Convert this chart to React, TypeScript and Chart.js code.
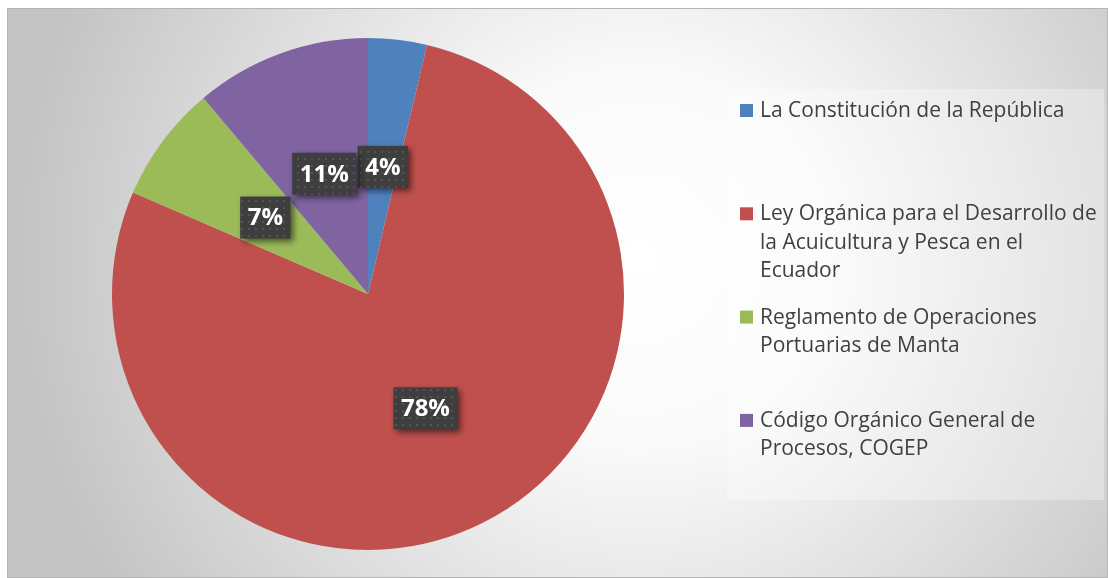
import React, { useEffect, useRef } from "react";
import { Chart, registerables } from "chart.js";

Chart.register(...registerables);

// Categories (legend lines as shown in the reference)
const categories: string[][] = [
  ["La Constitución de la República"],
  ["Ley Orgánica para el Desarrollo de", "la Acuicultura y Pesca en el", "Ecuador"],
  ["Reglamento de Operaciones", "Portuarias de Manta"],
  ["Código Orgánico General de", "Procesos, COGEP"],
];
// Counts per category (shown as percentages)
const values: number[] = [1, 21, 2, 3];
const colors: string[] = ["#4F81BD", "#C0504D", "#9BBB59", "#8064A2"];

const W = 1101;
const H = 570;
const FONT = "'Open Sans', Lato, sans-serif";

const bgPlugin = {
  id: "bgPlugin",
  beforeDraw(chart: any) {
    const { ctx } = chart;
    ctx.save();
    const g = ctx.createRadialGradient(633, 250, 0, 633, 250, 620);
    g.addColorStop(0, "#ffffff");
    g.addColorStop(0.3, "#fafafa");
    g.addColorStop(1, "#c4c4c4");
    ctx.fillStyle = g;
    ctx.fillRect(0, 0, W, H);
    // legend panel
    ctx.fillStyle = "rgba(255,255,255,0.3)";
    ctx.fillRect(720, 81, 377, 411);
    // border
    ctx.strokeStyle = "#b5b5b5";
    ctx.lineWidth = 1;
    ctx.strokeRect(0.5, 0.5, W - 1, H - 1);
    ctx.restore();
  },
};

let patternCache: CanvasPattern | null = null;
function getPattern(ctx: CanvasRenderingContext2D) {
  if (patternCache) return patternCache;
  const c = document.createElement("canvas");
  c.width = 7;
  c.height = 7;
  const p = c.getContext("2d")!;
  p.fillStyle = "#3e3e3e";
  p.fillRect(0, 0, 7, 7);
  p.fillStyle = "#545454";
  p.fillRect(3, 3, 2, 2);
  patternCache = ctx.createPattern(c, "repeat");
  return patternCache;
}

const labelPlugin = {
  id: "labelPlugin",
  afterDatasetsDraw(chart: any) {
    const { ctx } = chart;
    const meta = chart.getDatasetMeta(0);
    const total = values.reduce((a, b) => a + b, 0);
    ctx.save();
    ctx.font = `bold 24px ${FONT}`;
    meta.data.forEach((arc: any, i: number) => {
      const pos = arc.tooltipPosition();
      const txt = Math.round((values[i] / total) * 100) + "%";
      const tw = ctx.measureText(txt).width;
      const bw = tw + 15;
      const bh = 42;
      const x = pos.x - bw / 2;
      const y = pos.y - bh / 2;
      ctx.save();
      ctx.shadowColor = "rgba(0,0,0,0.55)";
      ctx.shadowBlur = 6;
      ctx.shadowOffsetX = 3;
      ctx.shadowOffsetY = 3;
      ctx.fillStyle = getPattern(ctx) || "#404040";
      ctx.fillRect(x, y, bw, bh);
      ctx.restore();
      ctx.fillStyle = "#ffffff";
      ctx.textAlign = "center";
      ctx.textBaseline = "middle";
      ctx.fillText(txt, pos.x, pos.y + 1);
    });
    ctx.restore();
  },
};

const legendPlugin = {
  id: "legendPlugin",
  afterDraw(chart: any) {
    const { ctx } = chart;
    ctx.save();
    ctx.font = `21px ${FONT}`;
    ctx.textAlign = "left";
    ctx.textBaseline = "alphabetic";
    categories.forEach((lines, i) => {
      const base = 109 + i * 103.3;
      ctx.fillStyle = colors[i];
      ctx.fillRect(733, base - 13, 13, 13);
      ctx.fillStyle = "#404040";
      lines.forEach((line, j) => {
        ctx.fillText(line, 753, base + j * 28.3);
      });
    });
    ctx.restore();
  },
};

export default function App() {
  const ref = useRef<HTMLCanvasElement>(null);
  useEffect(() => {
    const chart = new Chart(ref.current!, {
      type: "pie",
      data: {
        labels: categories.map((l) => l.join(" ")),
        datasets: [
          {
            data: values,
            backgroundColor: colors,
            borderWidth: 0,
          },
        ],
      },
      options: {
        responsive: false,
        animation: false,
        layout: { padding: { top: 30, bottom: 28, left: 105, right: 484 } },
        plugins: {
          legend: { display: false },
          tooltip: { enabled: false },
        },
      },
      plugins: [bgPlugin, labelPlugin, legendPlugin],
    });
    let alive = true;
    const fonts = (document as any).fonts;
    if (fonts && fonts.load) {
      Promise.all([fonts.load(`bold 24px 'Open Sans'`), fonts.load(`21px 'Open Sans'`)]).then(() => {
        if (alive) chart.draw();
      });
    }
    return () => {
      alive = false;
      chart.destroy();
    };
  }, []);
  return (
    <div style={{ position: "absolute", left: 7, top: 8, width: W, height: H }}>
      <canvas ref={ref} width={W} height={H} style={{ display: "block", width: W, height: H }} />
    </div>
  );
}
